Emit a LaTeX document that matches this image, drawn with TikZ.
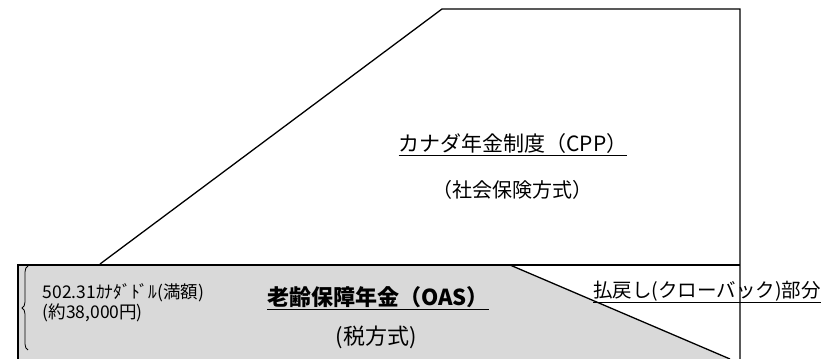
\documentclass[tikz,border=0pt]{standalone}
\usepackage{fontspec}
\setmainfont{Noto Sans CJK JP}
\usetikzlibrary{decorations.pathreplacing}

\begin{document}
\begin{tikzpicture}[x=1pt, y=1pt, line width=1.3pt]
    \useasboundingbox (0,0) rectangle (836,359);

    % OAS shaded part
    \fill[black!15] (18,94) -- (510,94) -- (730,0) -- (18,0) -- cycle;

    % CPP outline
    \draw (100,95) -- (442,350) -- (740,350) -- (740,0);

    % OAS box
    \draw (18,0) -- (18,94) -- (740,94);

    % Clawback line
    \draw (510,94) -- (730,0);

    % Full amount brace
    \draw[line width=0.8pt, decorate, decoration={brace, amplitude=6pt}] (28,9) -- (28,93);

    % Labels
    \node[font=\fontsize{21}{25}\selectfont] (cpp) at (513,214) {\underline{カナダ年金制度（CPP）}};
    \node[font=\fontsize{20}{24}\selectfont] (cppsub) at (512,169) {（社会保険方式）};
    \node[font=\bfseries\fontsize{22}{26}\selectfont] (oas) at (378,61) {\underline{老齢保障年金（OAS）}};
    \node[font=\fontsize{22}{26}\selectfont] (oassub) at (376,22) {(税方式)};
    \node[font=\fontsize{19.5}{23}\selectfont] (claw) at (707,67) {\underline{払戻し(クローバック)部分}};
    \node[right, align=left, inner sep=0pt, font=\fontsize{17.5}{20}\selectfont] (amount) at (42,56) {502.31ｶﾅﾀﾞﾄﾞﾙ(満額)\\(約38,000円)};
\end{tikzpicture}
\end{document}
